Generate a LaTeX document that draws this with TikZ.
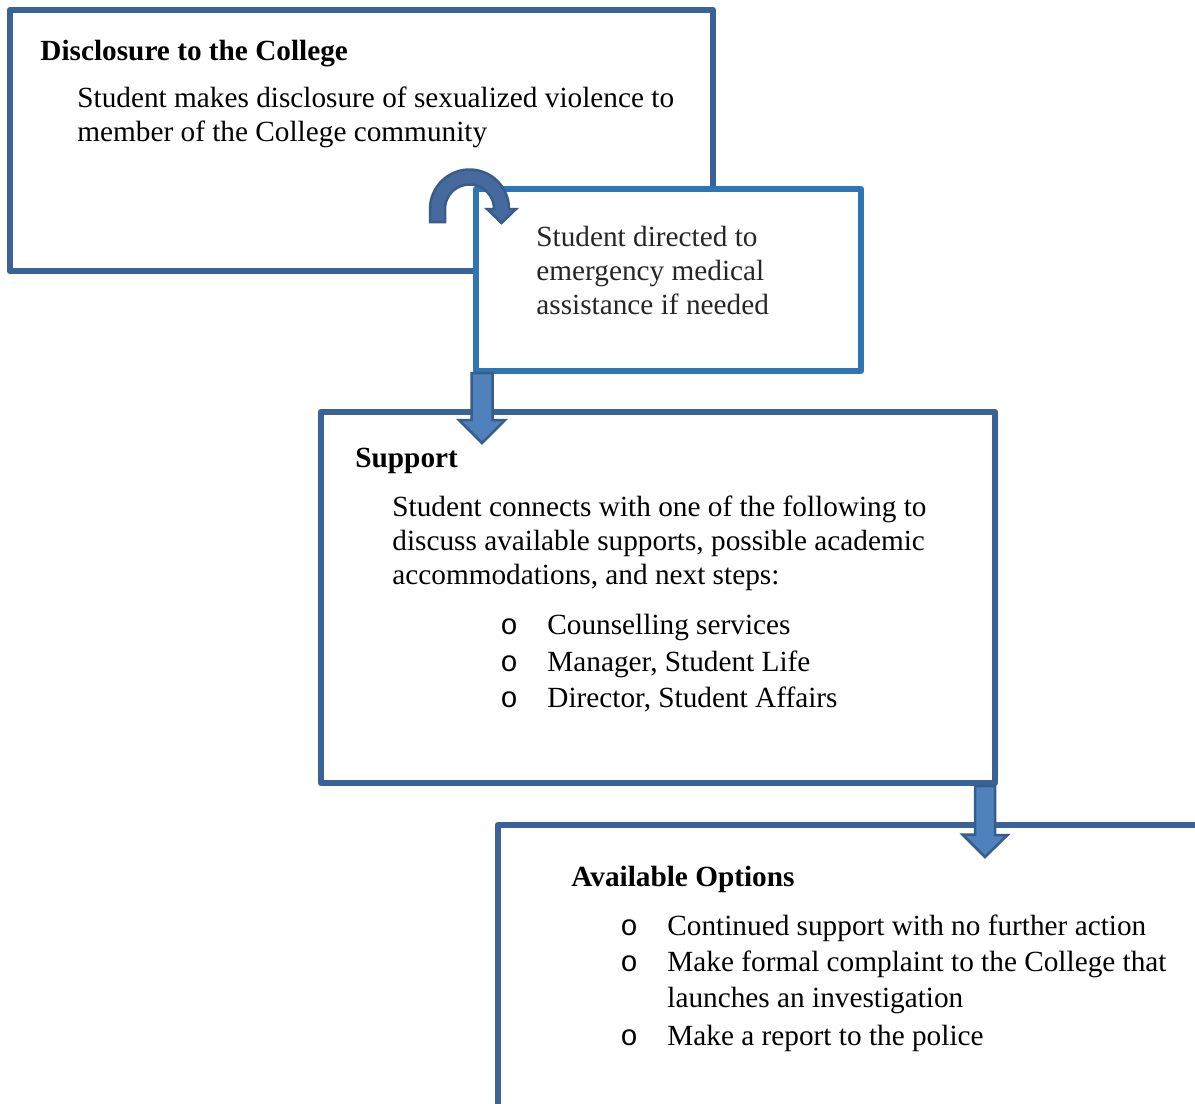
\documentclass[tikz,border=0pt]{standalone}
\usepackage{fontspec}
\setmainfont{Liberation Serif}
\newfontfamily\bulletfont{Liberation Mono}
\usetikzlibrary{calc}
\newdimen\pxu \pxu=0.48pt
\definecolor{boxblue}{HTML}{3A6296}
\definecolor{lightblue}{HTML}{2E75B6}
\definecolor{arrowfill}{HTML}{4F81BD}
\definecolor{arrowline}{HTML}{385D8A}
\definecolor{curvefill}{HTML}{46699E}
\definecolor{bodygray}{HTML}{262626}

\begin{document}
\begin{tikzpicture}[x=\pxu, y=-\pxu,
	box/.style = {draw=boxblue, line width=6.5\pxu, line join=round, fill=white, anchor=north west, inner sep=0, outer sep=0},
	txt/.style = {anchor=base west, inner sep=0, font=\fontsize{14.05}{16}\selectfont},
	head/.style = {txt, font=\fontsize{14.05}{16}\selectfont\bfseries},
	bullet/.style = {txt, font=\fontsize{14.05}{16}\bulletfont},
	blockarrow/.style = {fill=arrowfill, draw=arrowline, line width=2.5\pxu, line join=miter}]
	\clip (0,0) rectangle (1195,1103);
	\fill[white] (0,0) rectangle (1195,1103);
	
	% boxes
	\node[box, minimum width=703\pxu, minimum height=261\pxu] (disclosure) at (10,10) {};
	\node[box, draw=lightblue, line width=5.5\pxu, minimum width=385\pxu, minimum height=182\pxu] (medical) at (476,189) {};
	\node[box, minimum width=674\pxu, minimum height=371\pxu] (support) at (321,412) {};
	\node[box, minimum width=800\pxu, minimum height=400\pxu] (options) at (498,825) {};
	
	% curved arrow
	\draw[fill=curvefill, draw=arrowline, line width=2.5\pxu, line join=miter] (430,222)
		-- plot[domain=180:0, samples=40] ({469.5+39.5*cos(\x)}, {209-39.5*sin(\x)})
		-- (516,209) -- (501.5,223) -- (487,209)
		-- plot[domain=0:180, samples=40] ({469.5+24.5*cos(\x)}, {209-24.5*sin(\x)})
		-- (445,222) -- cycle;
	
	% down arrows
	\coordinate (a1top) at ($(medical.south west)+(6,2)$);
	\coordinate (a1tip) at ($(support.north west)+(161,31)$);
	\draw[blockarrow] (a1top) ++(-10.5,0) -- ++(21,0) -- ++(0,47) -- ++(12.5,0) -- (a1tip) -- ++(-23,-23) -- ++(12.5,0) -- cycle;
	\coordinate (a2top) at ($(support.south east)+(-10,3)$);
	\coordinate (a2tip) at ($(options.north west)+(487,32)$);
	\draw[blockarrow] (a2top) ++(-10,0) -- ++(20,0) -- ++(0,49) -- ++(12.5,0) -- (a2tip) -- ++(-22.5,-22.5) -- ++(12.5,0) -- cycle;
	
	% text of the boxes
	\node[head] (dischead) at (40,60) {Disclosure to the College};
	\node[txt] (disc1) at (77,107.5) {Student makes disclosure of sexualized violence to};
	\node[txt] (disc2) at (77,141.5) {member of the College community};
	
	\node[txt, text=bodygray] (med1) at (536,246.5) {Student directed to};
	\node[txt, text=bodygray] (med2) at (536,280.5) {emergency medical};
	\node[txt, text=bodygray] (med3) at (536,314.5) {assistance if needed};
	
	\node[head] (suphead) at (355,467.5) {Support};
	\node[txt] (sup1) at (392,516.5) {Student connects with one of the following to};
	\node[txt] (sup2) at (392,550.5) {discuss available supports, possible academic};
	\node[txt] (sup3) at (392,584.5) {accommodations, and next steps:};
	\foreach \entry [count=\i] in {Counselling services, {Manager, Student Life}, {Director, Student Affairs}} {
		\node[bullet] (supb\i) at (500,{598+36.5*\i}) {o};
		\node[txt] (supi\i) at (547,{598+36.5*\i}) {\entry};
	}
	
	\node[head] (opthead) at (571,886.5) {Available Options};
	\node[bullet] (optb1) at (620,935.5) {o};
	\node[txt] (opti1) at (667,935.5) {Continued support with no further action};
	\node[bullet] (optb2) at (620,971.5) {o};
	\node[txt] (opti2) at (667,971.5) {Make formal complaint to the College that};
	\node[txt] (opti2b) at (667,1007.5) {launches an investigation};
	\node[bullet] (optb3) at (620,1045.5) {o};
	\node[txt] (opti3) at (667,1045.5) {Make a report to the police};
\end{tikzpicture}
\end{document}
